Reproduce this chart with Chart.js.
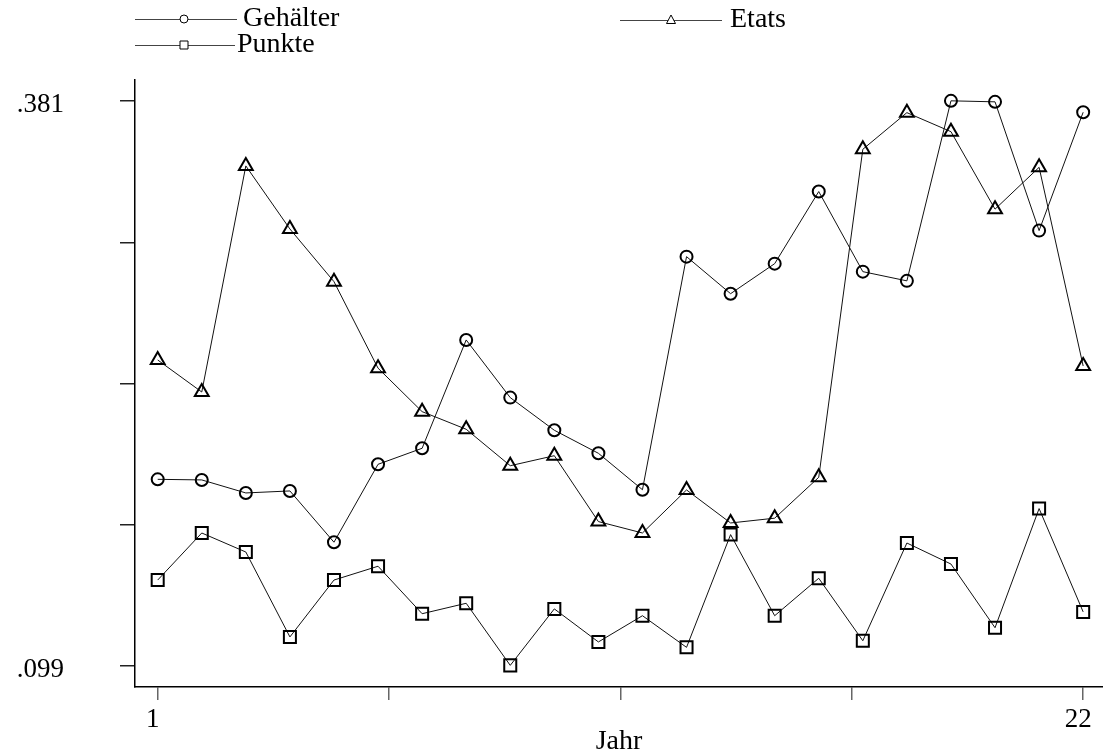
<!DOCTYPE html>
<html><head><meta charset="utf-8">
<script src="https://cdn.jsdelivr.net/npm/chart.js@4/dist/chart.umd.min.js"></script>
<style>html,body{margin:0;padding:0;background:#fff}#wrap{width:1103px;height:756px;position:relative}</style>
</head><body><div id="wrap"><canvas id="c" width="1103" height="756"></canvas></div>
<script>
const years = [1,2,3,4,5,6,7,8,9,10,11,12,13,14,15,16,17,18,19,20,21,22];
const gehaelter = [0.1922,0.1919,0.1854,0.1864,0.1608,0.1997,0.2077,0.2618,0.2330,0.2167,0.2052,0.1870,0.3034,0.2849,0.2999,0.3359,0.2959,0.2913,0.3812,0.3807,0.3164,0.3755];
const etats = [0.2518,0.2358,0.3487,0.3172,0.2909,0.2477,0.2260,0.2172,0.1990,0.2040,0.1711,0.1654,0.1869,0.1704,0.1728,0.1932,0.3570,0.3753,0.3658,0.3271,0.3480,0.2488];
const punkte = [0.1419,0.1654,0.1559,0.1135,0.1419,0.1488,0.1251,0.1303,0.0993,0.1275,0.1110,0.1241,0.1083,0.1646,0.1241,0.1428,0.1116,0.1604,0.1499,0.1181,0.1776,0.1260];
const seriesNames = ['Gehälter','Etats','Punkte'];
const xTicks = [1,6.25,11.5,16.75,22];
const xTickLabels = ['1','','','','22'];
const yTicks = [0.099,0.1695,0.240,0.3105,0.381];
const yTickLabels = ['.099','','','','.381'];
const xTitle = 'Jahr';

const FONT = '"Liberation Serif", "Times New Roman", serif';
const pts = arr => years.map((x,i)=>({x:x,y:arr[i]}));

function ds(label, arr, style, r){
  return {label, data: pts(arr), borderColor:'#111', borderWidth:1, pointStyle:style,
    pointRadius:r, pointHoverRadius:r, pointBorderWidth:2, pointBorderColor:'#000',
    pointBackgroundColor:'rgba(0,0,0,0)', fill:false, tension:0};
}

const legendPlugin = {
  id:'customLegend',
  afterDraw(chart){
    const ctx = chart.ctx;
    const items = [
      {i:0, style:'circle', x0:135, x1:237, mx:184, y:19, tx:243},
      {i:1, style:'triangle', x0:620, x1:722, mx:671, y:20, tx:730},
      {i:2, style:'rect', x0:135, x1:235, mx:184, y:45, tx:237}
    ];
    ctx.save();
    items.forEach(it=>{
      ctx.strokeStyle='#444'; ctx.lineWidth=1;
      ctx.beginPath(); ctx.moveTo(it.x0, it.y+0.5); ctx.lineTo(it.x1, it.y+0.5); ctx.stroke();
      ctx.fillStyle='#fff'; ctx.strokeStyle='#000'; ctx.lineWidth=1;
      ctx.beginPath();
      if(it.style==='circle'){ ctx.arc(it.mx, it.y, 4, 0, Math.PI*2); }
      else if(it.style==='rect'){ ctx.rect(it.mx-4, it.y-4, 8, 8); }
      else { ctx.moveTo(it.mx, it.y-5); ctx.lineTo(it.mx+4.5, it.y+3.5); ctx.lineTo(it.mx-4.5, it.y+3.5); ctx.closePath(); }
      ctx.fill(); ctx.stroke();
      ctx.fillStyle='#000'; ctx.font='28px '+FONT; ctx.textBaseline='middle'; ctx.textAlign='left';
      ctx.fillText(chart.data.datasets[it.i].label, it.tx, it.y);
    });
    ctx.restore();
  }
};

new Chart(document.getElementById('c'), {
  type:'line',
  data:{datasets:[
    ds(seriesNames[0], gehaelter, 'circle', 6),
    ds(seriesNames[1], etats, 'triangle', 8),
    ds(seriesNames[2], punkte, 'rect', 8.5)
  ]},
  options:{
    responsive:false, animation:false, devicePixelRatio:1,
    layout:{autoPadding:false, padding:{top:80,left:0,right:0,bottom:0}},
    plugins:{legend:{display:false}, tooltip:{enabled:false}},
    scales:{
      x:{type:'linear', min:0.485, max:22.45,
        afterBuildTicks(s){ s.ticks = xTicks.map(v=>({value:v})); },
        afterFit(s){ s.height = 69; s.paddingLeft = 0; s.paddingRight = 0; },
        ticks:{autoSkip:false, maxRotation:0, padding:4, labelOffset:-5, color:'#000',
          font:{family:FONT, size:27},
          callback:(v,i)=>xTickLabels[i]},
        grid:{display:true, drawOnChartArea:false, drawTicks:true, tickLength:13, color:'#666', lineWidth:1.5},
        border:{display:true, color:'#000', width:1.5},
        title:{display:true, text:xTitle, color:'#000', font:{family:FONT, size:28, lineHeight:1}, padding:{top:0,bottom:0}}
      },
      y:{type:'linear', min:0.0885, max:0.3916,
        afterBuildTicks(s){ s.ticks = yTicks.map(v=>({value:v})); },
        afterFit(s){ s.width = 135; s.paddingTop = 0; s.paddingBottom = 0; },
        ticks:{autoSkip:false, padding:56, labelOffset:4, color:'#000', font:{family:FONT, size:27},
          callback:(v,i)=>yTickLabels[i]},
        grid:{display:true, drawOnChartArea:false, drawTicks:true, tickLength:15, color:'#222', lineWidth:1.5},
        border:{display:true, color:'#000', width:1.5}
      }
    }
  },
  plugins:[legendPlugin]
});
</script></body></html>
